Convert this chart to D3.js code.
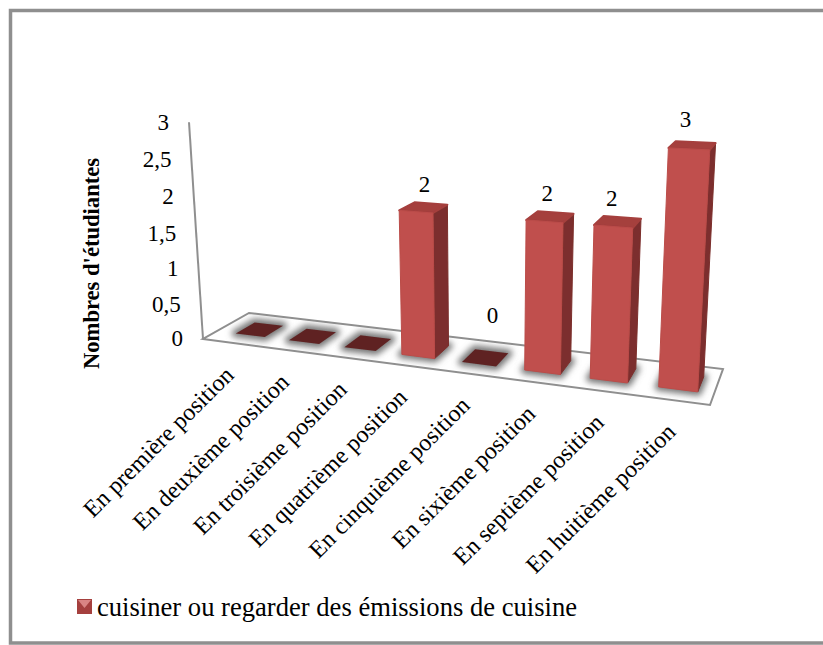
<!DOCTYPE html>
<html lang="fr">
<head>
<meta charset="utf-8">
<script src="https://cdn.jsdelivr.net/npm/d3@7"></script>
<style>
  html, body { margin: 0; padding: 0; background: #fff; }
  svg { display: block; }
  text { font-family: "Liberation Serif", serif; fill: #000; }
</style>
</head>
<body>
<div id="graph"></div>
<script>
// Données
const categories = [
  "En première position", "En deuxième position", "En troisième position", "En quatrième position",
  "En cinquième position", "En sixième position", "En septième position", "En huitième position"
]
const values = [0, 0, 0, 2, 0, 2, 2, 3]
const valueLabels = ["", "", "", "2", "0", "2", "2", "3"]
const yTicks = [0, 0.5, 1, 1.5, 2, 2.5, 3]
const yTickLabels = ["0", "0,5", "1", "1,5", "2", "2,5", "3"]
const yTitle = "Nombres d'étudiantes"
const legendLabel = "cuisiner ou regarder des émissions de cuisine"

const width = 823, height = 645

const svg = d3.select("#graph").append("svg")
  .attr("width", width)
  .attr("height", height)

// Cadre (pas de bord droit visible)
svg.append("path")
  .attr("d", "M823,10.5 H10.5 V643 H823")
  .attr("fill", "none")
  .attr("stroke", "#8f8f8f")
  .attr("stroke-width", 3.5)

/* ------------------------------------------------------------------------------
    PROJECTION 3D : sol (u, v) + hauteur t vers l'écran
------------------------------------------------------------------------------ */
const floorCorners = [[203, 339], [710, 405], [723, 369], [249, 313]]
const vanish = [484, 4694]
const lift = -0.0474

const homography = (function (q) {
  const dx1 = q[1][0] - q[2][0], dx2 = q[3][0] - q[2][0], sx = q[0][0] - q[1][0] + q[2][0] - q[3][0]
  const dy1 = q[1][1] - q[2][1], dy2 = q[3][1] - q[2][1], sy = q[0][1] - q[1][1] + q[2][1] - q[3][1]
  const den = dx1 * dy2 - dx2 * dy1
  const g = (sx * dy2 - dx2 * sy) / den
  const h = (dx1 * sy - sx * dy1) / den
  return {
    a: q[1][0] - q[0][0] + g * q[1][0], b: q[3][0] - q[0][0] + h * q[3][0], c: q[0][0],
    d: q[1][1] - q[0][1] + g * q[1][1], e: q[3][1] - q[0][1] + h * q[3][1], f: q[0][1],
    g: g, h: h
  }
})(floorCorners)

function project(u, v, t) {
  const m = homography
  const w = m.g * u + m.h * v + 1 + lift * t
  return [
    (m.a * u + m.b * v + m.c + lift * t * vanish[0]) / w,
    (m.d * u + m.e * v + m.f + lift * t * vanish[1]) / w
  ]
}

// Echelles
const x = d3.scaleBand().domain(categories).range([0.017, 1]).paddingInner(0.45).paddingOuter(0.225)
const y = d3.scaleLinear().domain([0, 3]).range([0, 1])
// le haut des barres est un peu arrondi, donc un peu plus bas que la graduation
const barY = d3.scaleLinear().domain([0, 3]).range([0, 0.97])
const depth = { front: 0.29, back: 0.71 }

const polygon = pts => pts.map(p => p.map(n => n.toFixed(1)).join(",")).join(" ")

/* ------------------------------------------------------------------------------
    SOL ET AXE
------------------------------------------------------------------------------ */
const defs = svg.append("defs")
defs.append("filter").attr("id", "shadow")
  .attr("x", "-40%").attr("y", "-60%").attr("width", "180%").attr("height", "220%")
  .append("feGaussianBlur").attr("stdDeviation", 3)
defs.append("filter").attr("id", "soft")
  .append("feGaussianBlur").attr("stdDeviation", 0.5)
defs.append("clipPath").attr("id", "floor-clip")
  .append("polygon").attr("points", polygon(floorCorners))

svg.append("polygon")
  .attr("points", polygon(floorCorners))
  .attr("fill", "#fff")
  .attr("stroke", "#8f8f8f")
  .attr("stroke-width", 2)

svg.append("line")
  .attr("x1", project(0, 0, y(0))[0]).attr("y1", project(0, 0, y(0))[1])
  .attr("x2", project(0, 0, y(3))[0]).attr("y2", project(0, 0, y(3))[1])
  .attr("stroke", "#8f8f8f")
  .attr("stroke-width", 2)

svg.append("g").selectAll("text")
  .data(yTicks)
  .join("text")
  .attr("x", d => project(0, 0, y(d))[0] - 20)
  .attr("y", d => project(0, 0, y(d))[1])
  .attr("dy", "0.32em")
  .attr("text-anchor", "end")
  .attr("font-size", 23)
  .text((d, i) => yTickLabels[i])

svg.append("text")
  .attr("transform", "translate(92,263.5) rotate(-90)")
  .attr("text-anchor", "middle")
  .attr("dy", "0.32em")
  .attr("font-size", 22.6)
  .attr("font-weight", "bold")
  .text(yTitle)

/* ------------------------------------------------------------------------------
    BARRES
------------------------------------------------------------------------------ */
const bars = categories.map((c, i) => {
  const u0 = x(c), u1 = x(c) + x.bandwidth(), t = barY(values[i])
  return {
    value: values[i],
    base: [project(u0, depth.front, 0), project(u1, depth.front, 0), project(u1, depth.back, 0), project(u0, depth.back, 0)],
    top: [project(u0, depth.front, t), project(u1, depth.front, t), project(u1, depth.back, t), project(u0, depth.back, t)]
  }
})

// Ombres sur le sol
svg.append("g")
  .attr("clip-path", "url(#floor-clip)")
  .selectAll("polygon")
  .data(bars)
  .join("polygon")
  .attr("points", d => polygon(d.base))
  .attr("fill", "#777")
  .attr("stroke", "#777")
  .attr("stroke-width", 8)
  .attr("stroke-linejoin", "round")
  .attr("filter", "url(#shadow)")

const barG = svg.append("g").attr("filter", "url(#soft)")

barG.selectAll(".flat")
  .data(bars.filter(d => d.value === 0))
  .join("polygon")
  .attr("class", "flat")
  .attr("points", d => polygon(d.base))
  .attr("fill", "#5f2322")

const tall = barG.selectAll(".bar")
  .data(bars.filter(d => d.value > 0))
  .join("g")
  .attr("class", "bar")

tall.append("polygon")
  .attr("points", d => polygon([d.base[1], d.base[2], d.top[2], d.top[1]]))
  .attr("fill", "#7c2f2d")
  .attr("stroke", "#7c2f2d")
  .attr("stroke-linejoin", "round")
tall.append("polygon")
  .attr("points", d => polygon([d.top[0], d.top[1], d.top[2], d.top[3]]))
  .attr("fill", "#a53f3d")
  .attr("stroke", "#a53f3d")
  .attr("stroke-width", 2)
  .attr("stroke-linejoin", "round")
tall.append("polygon")
  .attr("points", d => polygon([d.base[0], d.base[1], d.top[1], d.top[0]]))
  .attr("fill", "#c0504d")
  .attr("stroke", "#bb4c49")
  .attr("stroke-linejoin", "round")

// Etiquettes de valeurs
const labelNudge = { 3: [1, -23], 4: [7, -42], 5: [-3, -23], 6: [-6, -23], 7: [-7, -26] }
svg.append("g").selectAll("text")
  .data(valueLabels.map((label, i) => ({ label, i })).filter(d => d.label !== ""))
  .join("text")
  .attr("x", d => d3.mean(bars[d.i].top, p => p[0]) + labelNudge[d.i][0])
  .attr("y", d => d3.mean(bars[d.i].top, p => p[1]) + labelNudge[d.i][1])
  .attr("dy", "0.32em")
  .attr("text-anchor", "middle")
  .attr("font-size", 23)
  .text(d => d.label)

/* ------------------------------------------------------------------------------
    AXE X
------------------------------------------------------------------------------ */
svg.append("g").selectAll("text")
  .data(categories)
  .join("text")
  .attr("transform", d => {
    const u = x(d) + x.bandwidth() / 2
    const p = project(u, 0, 0)
    return "translate(" + (p[0] + 6 * u - 2) + "," + (p[1] + 33) + ") rotate(-45)"
  })
  .attr("text-anchor", "end")
  .attr("font-size", 24)
  .text(d => d)

/* ------------------------------------------------------------------------------
    LEGENDE
------------------------------------------------------------------------------ */
const legend = svg.append("g").attr("transform", "translate(77,599)")
legend.append("rect").attr("width", 15).attr("height", 15).attr("fill", "#a5403e")
legend.append("polygon").attr("points", "1,1 14,1 7.5,9").attr("fill", "#d98583")
legend.append("text")
  .attr("x", 20)
  .attr("y", 17)
  .attr("font-size", 26.6)
  .text(legendLabel)
</script>
</body>
</html>
